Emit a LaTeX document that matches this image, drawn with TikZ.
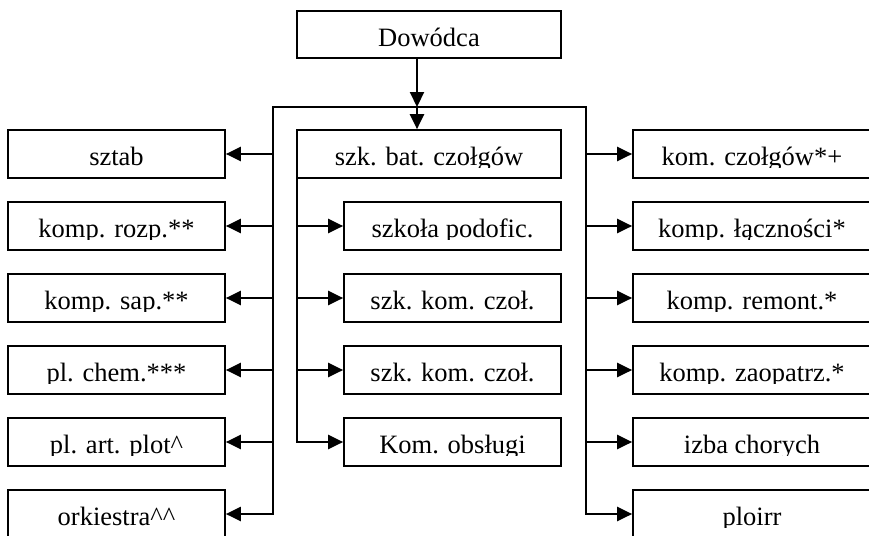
\documentclass[tikz,border=0pt]{standalone}
\usepackage{fontspec}
\setmainfont{Liberation Serif}
\usetikzlibrary{arrows.meta}
\newcommand\boxtxt{}
\tikzset{
  txt/.code={\def\boxtxt{#1}},
  base/.store in=\boxbase, base=13pt,
  box/.style={draw=black, line width=1.7pt, inner sep=0pt, minimum height=48pt,
    path picture={
      \clip ([yshift=10.5pt]path picture bounding box.south west) rectangle (path picture bounding box.north east);
      \node[font=\fontsize{26.5}{30}\selectfont, inner sep=0pt, anchor=base]
        at ([yshift=\boxbase]path picture bounding box.south) {\boxtxt};
    }},
  lbox/.style={box, minimum width=217pt},
  rbox/.style={box, minimum width=238pt},
  conn/.style={line width=2.2pt, draw=black},
  arr/.style={conn, -{Triangle[length=15pt,width=14pt]}},
}
\begin{document}
\begin{tikzpicture}[x=1pt,y=-1pt]
\clip (0,0) rectangle (869,535);
\fill[white] (0,0) rectangle (869,535);
% top
\node[box, minimum width=264pt, minimum height=47pt, base=11.5pt, txt={Dowódca}] (dow) at (429,34.5) {};
\node[box, minimum width=264pt, txt={szk. bat. czołgów}] (bat) at (429,154) {};
% left column
\node[lbox, txt={sztab}] (l1) at (116.5,154) {};
\node[lbox, txt={komp. rozp.**}] (l2) at (116.5,226) {};
\node[lbox, txt={komp. sap.**}] (l3) at (116.5,298) {};
\node[lbox, txt={pl. chem.***}] (l4) at (116.5,370) {};
\node[lbox, txt={pl. art. plot\textasciicircum}] (l5) at (116.5,442) {};
\node[lbox, txt={orkiestra\textasciicircum\textasciicircum}] (l6) at (116.5,514) {};
% middle column
\node[lbox, txt={szkoła podofic.}] (m2) at (452.5,226) {};
\node[lbox, txt={szk. kom. czoł.}] (m3) at (452.5,298) {};
\node[lbox, txt={szk. kom. czoł.}] (m4) at (452.5,370) {};
\node[lbox, txt={Kom. obsługi}] (m5) at (452.5,442) {};
% right column
\node[rbox, txt={kom. czołgów*+}] (r1) at (752,154) {};
\node[rbox, txt={komp. łączności*}] (r2) at (752,226) {};
\node[rbox, txt={komp. remont.*}] (r3) at (752,298) {};
\node[rbox, txt={komp. zaopatrz.*}] (r4) at (752,370) {};
\node[rbox, txt={izba chorych}] (r5) at (752,442) {};
\node[rbox, txt={ploirr}] (r6) at (752,514) {};
% bus
\coordinate (hub) at (417,107);
\coordinate (lt) at (273,107);
\coordinate (rt) at (586,107);
\coordinate (mv) at (297,178);
\draw[arr] (dow.south -| hub) -- (hub);
\draw[arr] (hub) -- (hub |- bat.north);
\draw[arr] (rt) -- (lt) -- (lt |- l6.east) -- (l6.east);
\draw[arr] (lt) -- (rt) -- (rt |- r6.west) -- (r6.west);
\draw[arr] (mv) -- (mv |- m5.west) -- (m5.west);
\foreach \i in {1,...,5}{
  \draw[arr] (lt |- l\i.east) -- (l\i.east);
  \draw[arr] (rt |- r\i.west) -- (r\i.west);
}
\foreach \i in {2,3,4}{
  \draw[arr] (mv |- m\i.west) -- (m\i.west);
}
\end{tikzpicture}
\end{document}
